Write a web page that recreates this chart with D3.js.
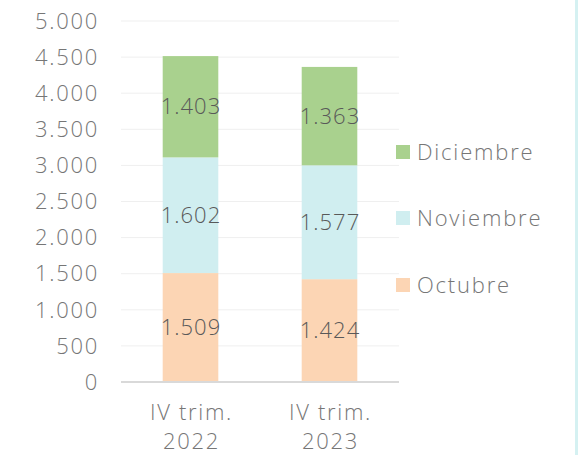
<!DOCTYPE html>
<html>
<head>
<meta charset="utf-8">
<script src="https://cdn.jsdelivr.net/npm/d3@7"></script>
<style>
  body { margin: 0; background: #fff; }
  svg { display: block; font-family: "Open Sans", sans-serif; }
</style>
</head>
<body>
<svg id="chart"></svg>
<script>
// data
const categories = ["IV trim. 2022", "IV trim. 2023"];
const seriesNames = ["Octubre", "Noviembre", "Diciembre"];
const octubre = [1509, 1424];
const noviembre = [1602, 1577];
const diciembre = [1403, 1363];
const yTicks = [0, 500, 1000, 1500, 2000, 2500, 3000, 3500, 4000, 4500, 5000];
const colors = ["#FCD5B4", "#D0EEF0", "#A9D18E"];

const w = 579, h = 455;
const svg = d3.select("#chart").attr("width", w).attr("height", h);

const rows = categories.map((c, i) => ({
  cat: c, Octubre: octubre[i], Noviembre: noviembre[i], Diciembre: diciembre[i]
}));
const stacked = d3.stack().keys(seriesNames)(rows);

const x = d3.scaleBand().domain(categories).range([121, 399]).paddingInner(0.6).paddingOuter(0.3);
const y = d3.scaleLinear().domain([0, 5000]).range([382, 21]);

const fmt = v => d3.format(",")(v).replace(/,/g, ".");

// right edge band
svg.append("rect").attr("x", 575).attr("y", 0).attr("width", 3).attr("height", h).attr("fill", "#D5F1F2");

// gridlines
svg.append("g").selectAll("line")
  .data(yTicks.filter(d => d > 0))
  .join("line")
  .attr("x1", 121).attr("x2", 399)
  .attr("y1", d => y(d)).attr("y2", d => y(d))
  .attr("stroke", "#EFEFEF").attr("stroke-width", 1);

// y tick labels
svg.append("g").selectAll("text")
  .data(yTicks)
  .join("text")
  .attr("x", 99).attr("y", d => y(d))
  .attr("dy", "0.35em")
  .attr("text-anchor", "end")
  .attr("fill", "#767676")
  .attr("font-size", 22)
  .attr("font-weight", 300)
  .attr("letter-spacing", 1.7)
  .text(fmt);

// bars
const layers = svg.append("g").selectAll("g")
  .data(stacked)
  .join("g")
  .attr("fill", (d, i) => colors[i]);

layers.selectAll("rect")
  .data(d => d)
  .join("rect")
  .attr("x", d => x(d.data.cat))
  .attr("width", x.bandwidth())
  .attr("y", d => y(d[1]))
  .attr("height", d => y(d[0]) - y(d[1]));

// value labels
layers.selectAll("text")
  .data(d => d)
  .join("text")
  .attr("x", d => x(d.data.cat) + x.bandwidth() / 2 + 0.5)
  .attr("y", d => (y(d[0]) + y(d[1])) / 2)
  .attr("dy", "0.35em")
  .attr("text-anchor", "middle")
  .attr("fill", "#595959")
  .attr("font-size", 22)
  .attr("font-weight", 300)
  .attr("letter-spacing", 1)
  .text(d => fmt(d[1] - d[0]));

// baseline
svg.append("line")
  .attr("x1", 121).attr("x2", 399)
  .attr("y1", y(0)).attr("y2", y(0))
  .attr("stroke", "#D9D9D9").attr("stroke-width", 2);

// category labels
const catLabels = svg.append("g").selectAll("text")
  .data(categories)
  .join("text")
  .attr("y", 412)
  .attr("text-anchor", "middle")
  .attr("fill", "#767676")
  .attr("font-size", 22)
  .attr("font-weight", 300)
  .attr("letter-spacing", 1.7);
catLabels.append("tspan").attr("x", d => x(d) + x.bandwidth() / 2 + 1).attr("dy", "0.35em").text(d => d.slice(0, 8));
catLabels.append("tspan").attr("x", d => x(d) + x.bandwidth() / 2 + 1).attr("dy", 29).text(d => d.slice(9));

// legend
const legendY = [285, 218, 152];
const legend = svg.append("g").selectAll("g")
  .data(seriesNames)
  .join("g")
  .attr("transform", (d, i) => `translate(396,${legendY[i]})`);
legend.append("rect")
  .attr("x", 0).attr("y", -7).attr("width", 14).attr("height", 14)
  .attr("fill", (d, i) => colors[i]);
legend.append("text")
  .attr("x", 21).attr("dy", "0.35em")
  .attr("fill", "#767676")
  .attr("font-size", 22)
  .attr("font-weight", 300)
  .attr("letter-spacing", 1.8)
  .text(d => d);
</script>
</body>
</html>
